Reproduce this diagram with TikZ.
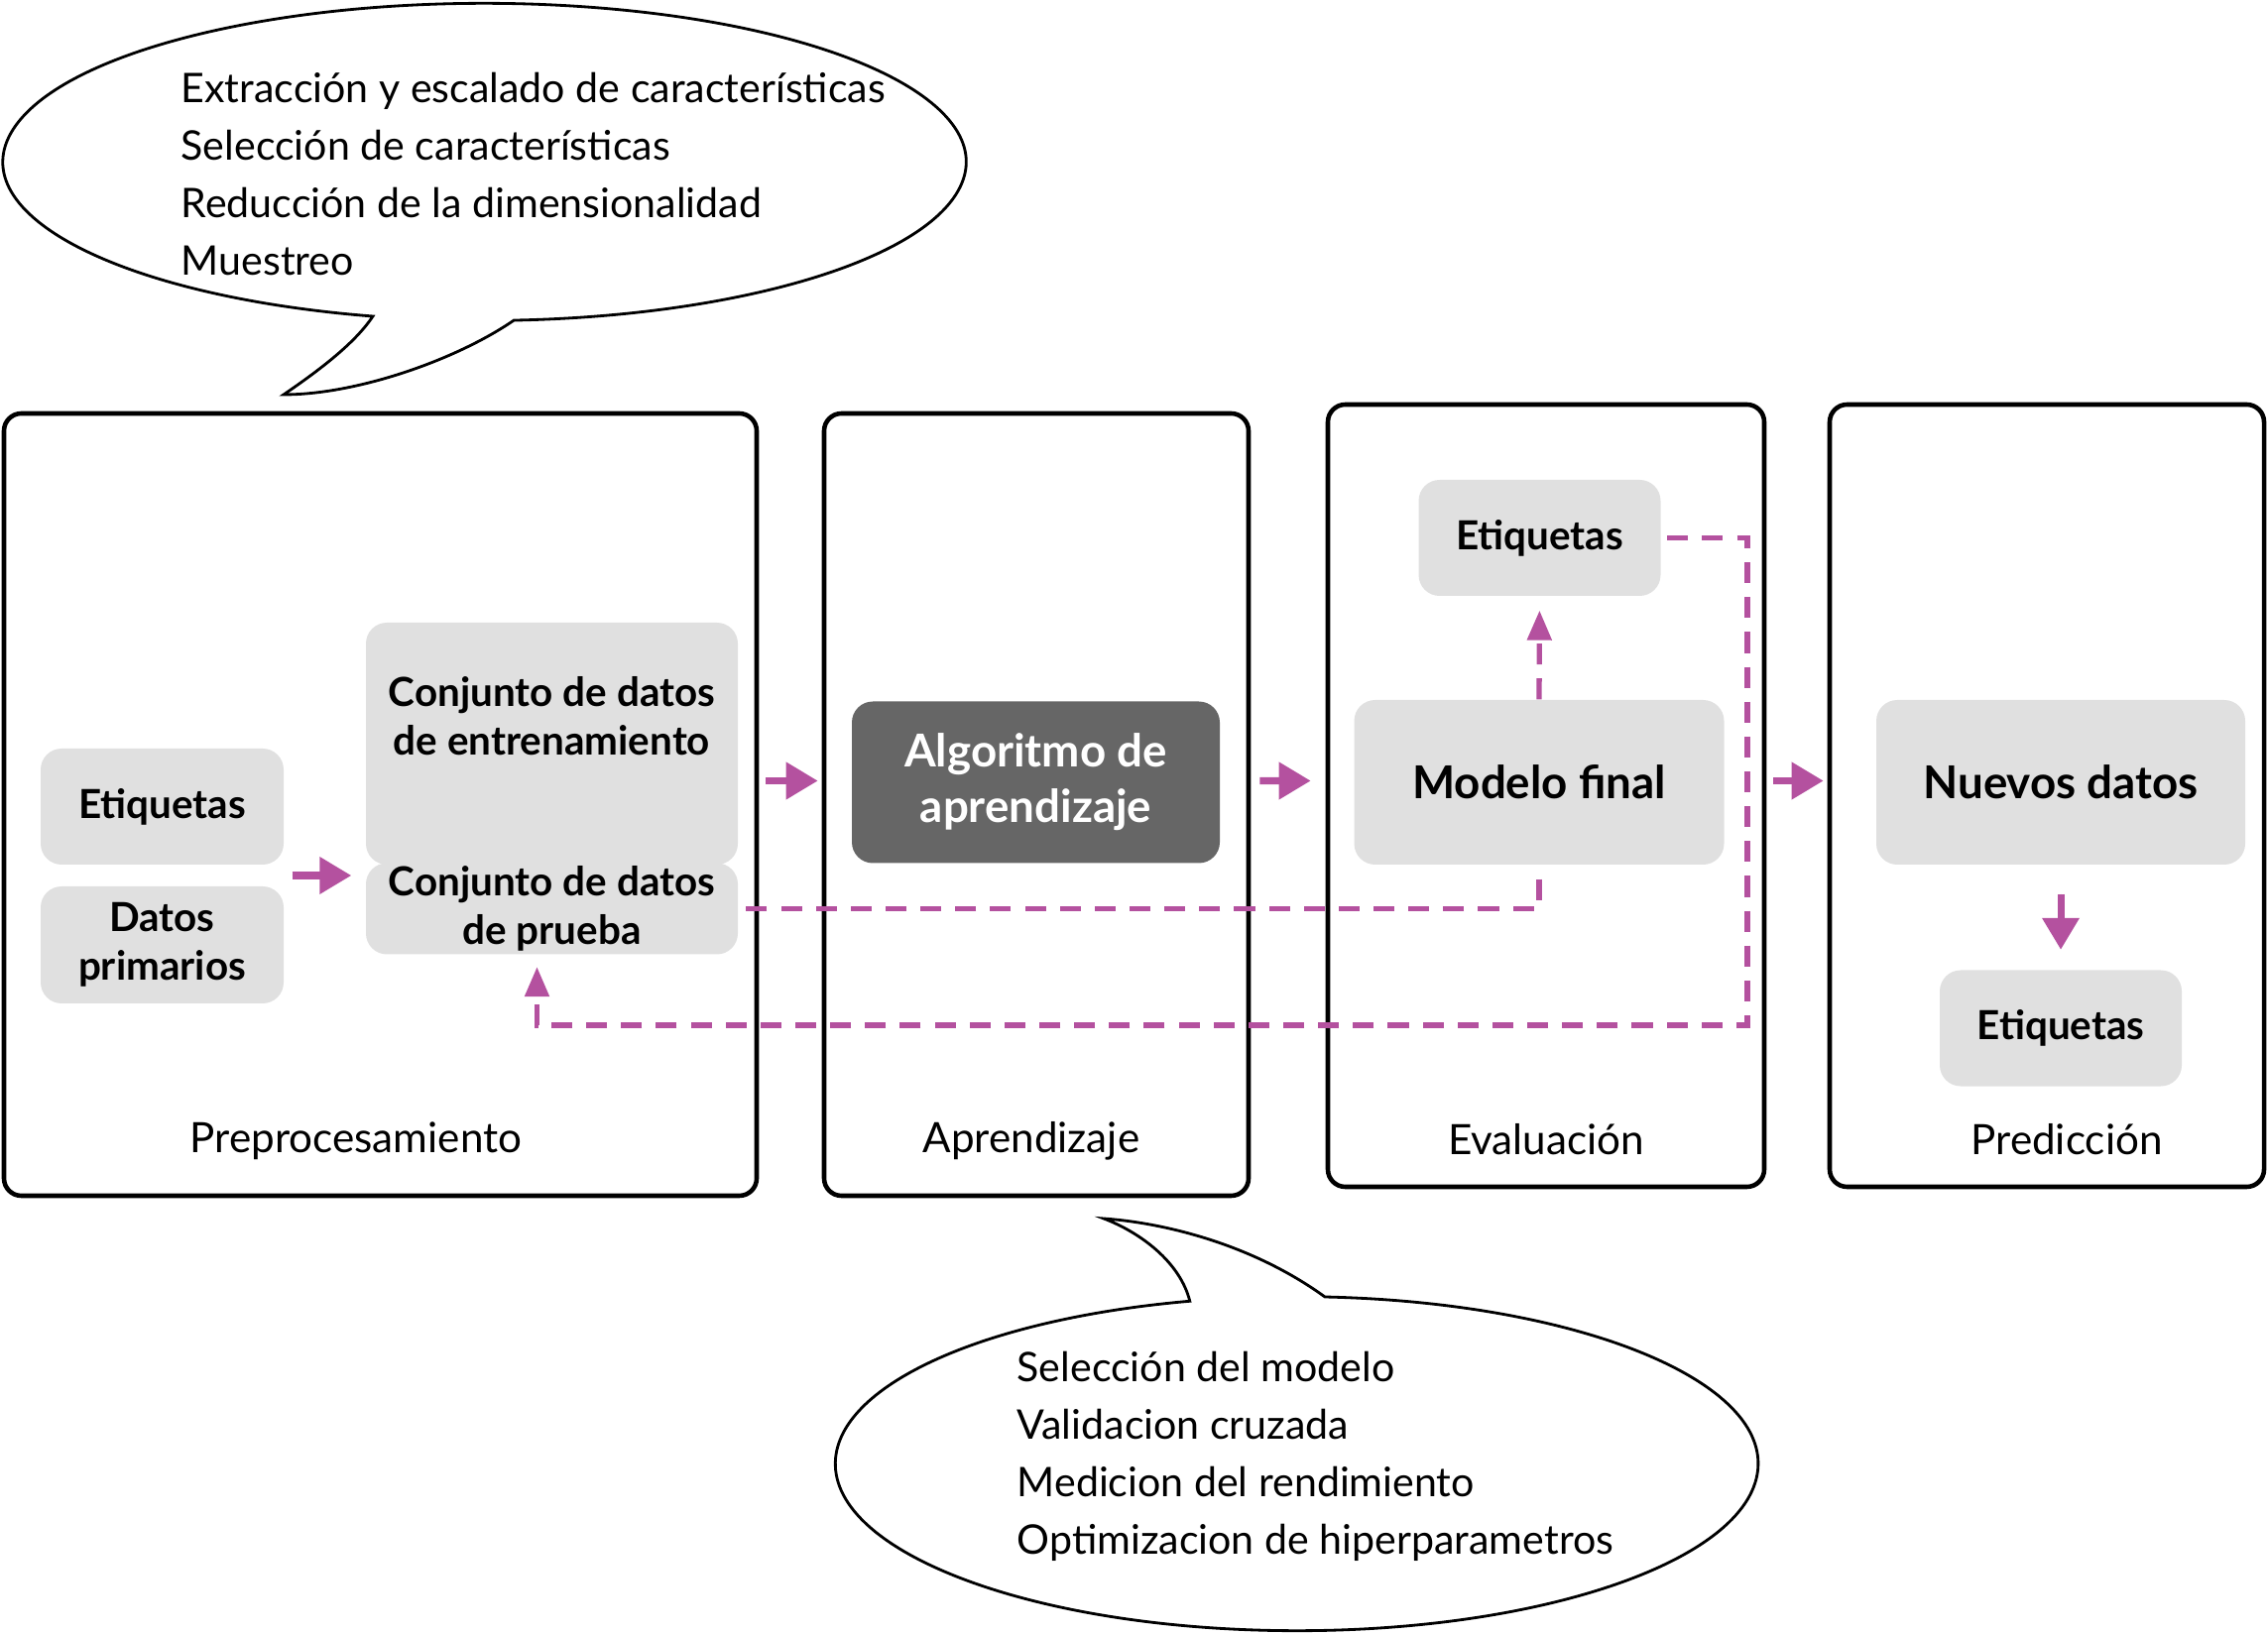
\documentclass[tikz,border=0pt]{standalone}
\usepackage{fontspec}
\setmainfont{Lato}
\usetikzlibrary{arrows.meta,calc}
\definecolor{flowMagenta}{HTML}{B4519F}
\definecolor{chipGray}{HTML}{E0E0E0}
\definecolor{algoDark}{HTML}{666666}
\tikzset{
  >={Triangle[length=3.2mm,width=3.6mm]},
  flow/.style={->, draw=flowMagenta, fill=flowMagenta, line width=2pt},
  backline/.style={draw=flowMagenta, line width=1.5pt, dash pattern=on 6pt off 4pt},
  back/.style={backline, -{Triangle[length=3mm,width=2.4mm]}},
  phase/.style={draw=black, line width=1.3pt, rounded corners=5pt},
  chip/.style={fill=chipGray, rounded corners=6pt, inner sep=0pt, align=center,
               font=\fontsize{11.5}{14}\selectfont\bfseries},
  bigchip/.style={chip, font=\fontsize{13}{16}\selectfont\bfseries},
  phaseLabel/.style={font=\fontsize{12}{14}\selectfont},
  notes/.style={font=\fontsize{11.7}{16.5}\selectfont, align=left, anchor=west, inner sep=0pt},
  bubble/.style={draw=black, line width=0.8pt, fill=white}
}

\begin{document}
\begin{tikzpicture}
\useasboundingbox (0,0) rectangle (22.87,16.48);

% ------------------------------------------------------------
% phase frames
% ------------------------------------------------------------
\node[phase, minimum width=7.59cm, minimum height=7.89cm] (prep) at (3.835,8.365) {};
\node[phase, minimum width=4.28cm, minimum height=7.89cm] (learn) at (10.45,8.365) {};
\node[phase, minimum width=4.40cm, minimum height=7.89cm] (eval) at (15.59,8.455) {};
\node[phase, minimum width=4.38cm, minimum height=7.89cm] (pred) at (20.64,8.455) {};

\node[phaseLabel] (prepLabel) at (3.59,4.97) {Preprocesamiento};
\node[phaseLabel] (learnLabel) at (10.40,4.97) {Aprendizaje};
\node[phaseLabel] (evalLabel) at (15.59,4.99) {Evaluación};
\node[phaseLabel] (predLabel) at (20.84,4.99) {Predicción};

% ------------------------------------------------------------
% preprocessing
% ------------------------------------------------------------
\node[chip, minimum width=2.45cm, minimum height=1.17cm] (etiqA) at (1.635,8.345) {Etiquetas};
\node[chip, minimum width=2.45cm, minimum height=1.18cm] (datos) at (1.635,6.95) {Datos\\primarios};
\node[chip, minimum width=3.75cm, minimum height=2.44cm] (train) at (5.565,8.98)
  {Conjunto de datos\\de entrenamiento\\[2pt]~};
\node[chip, minimum width=3.75cm, minimum height=0.92cm] (test) at (5.565,7.315)
  {Conjunto de datos\\de prueba};

\coordinate (rawOut) at ($(etiqA.south east)!0.5!(datos.north east)$);
\draw[flow, shorten <=0.8mm, shorten >=1.4mm] (rawOut) -- (rawOut -| train.west);

% ------------------------------------------------------------
% learning, evaluation, prediction
% ------------------------------------------------------------
\node[bigchip, fill=algoDark, text=white, minimum width=3.71cm, minimum height=1.63cm] (algo) at (10.445,8.59)
  {Algoritmo de\\aprendizaje};
\node[bigchip, minimum width=3.73cm, minimum height=1.66cm] (modelo) at (15.52,8.59) {Modelo final};
\node[chip, minimum width=2.44cm, minimum height=1.17cm] (etiqE) at (15.525,11.055) {Etiquetas};
\node[bigchip, minimum width=3.72cm, minimum height=1.66cm] (nuevos) at (20.78,8.59) {Nuevos datos};
\node[chip, minimum width=2.44cm, minimum height=1.17cm] (etiqP) at (20.78,6.11) {Etiquetas};

\draw[flow, shorten <=0.7mm, shorten >=0.4mm] ([yshift=2.4mm]prep.east) -- ([yshift=2.4mm]learn.west);
\draw[flow, shorten <=0.9mm, shorten >=1.5mm] ([yshift=2.4mm]learn.east) -- ([yshift=1.5mm]eval.west);
\draw[flow, shorten <=0.7mm, shorten >=0.4mm] ([yshift=1.5mm]eval.east) -- ([yshift=1.5mm]pred.west);
\draw[flow, shorten <=2.9mm, shorten >=2mm] (nuevos.south) -- (etiqP.north);

% dashed feedback
\coordinate (loopCorner) at (17.62,6.14);
\draw[back, shorten >=1.4mm] (modelo.north) -- (etiqE.south);
\draw[backline] ([yshift=-1.4mm]modelo.south) |- (test.east);
\draw[back, shorten <=0.6mm, shorten >=1.2mm] (etiqE.east) -| (loopCorner) -| ([xshift=-1.5mm]test.south);

% ------------------------------------------------------------
% speech bubbles
% ------------------------------------------------------------
\draw[bubble] (3.76,13.29) arc[start angle=256.6, end angle=-86.5, x radius=4.857cm, y radius=1.60cm]
  .. controls (4.6,12.85) and (3.6,12.5) .. (2.86,12.50)
  .. controls (3.3,12.8) and (3.6,13.05) .. cycle;
\node[notes] (prepNotes) at (1.82,14.72)
  {Extracción y escalado de características\\Selección de características\\Reducción de la dimensionalidad\\Muestreo};

\draw[bubble] (13.36,3.40) arc[start angle=86.5, end angle=-256.6, x radius=4.653cm, y radius=1.685cm]
  .. controls (11.9,3.75) and (11.5,4.05) .. (11.13,4.19)
  .. controls (11.7,4.15) and (12.6,3.95) .. cycle;
\node[notes] (learnNotes) at (10.25,1.79)
  {Selección del modelo\\Validacion cruzada\\Medicion del rendimiento\\Optimizacion de hiperparametros};

\end{tikzpicture}
\end{document}
